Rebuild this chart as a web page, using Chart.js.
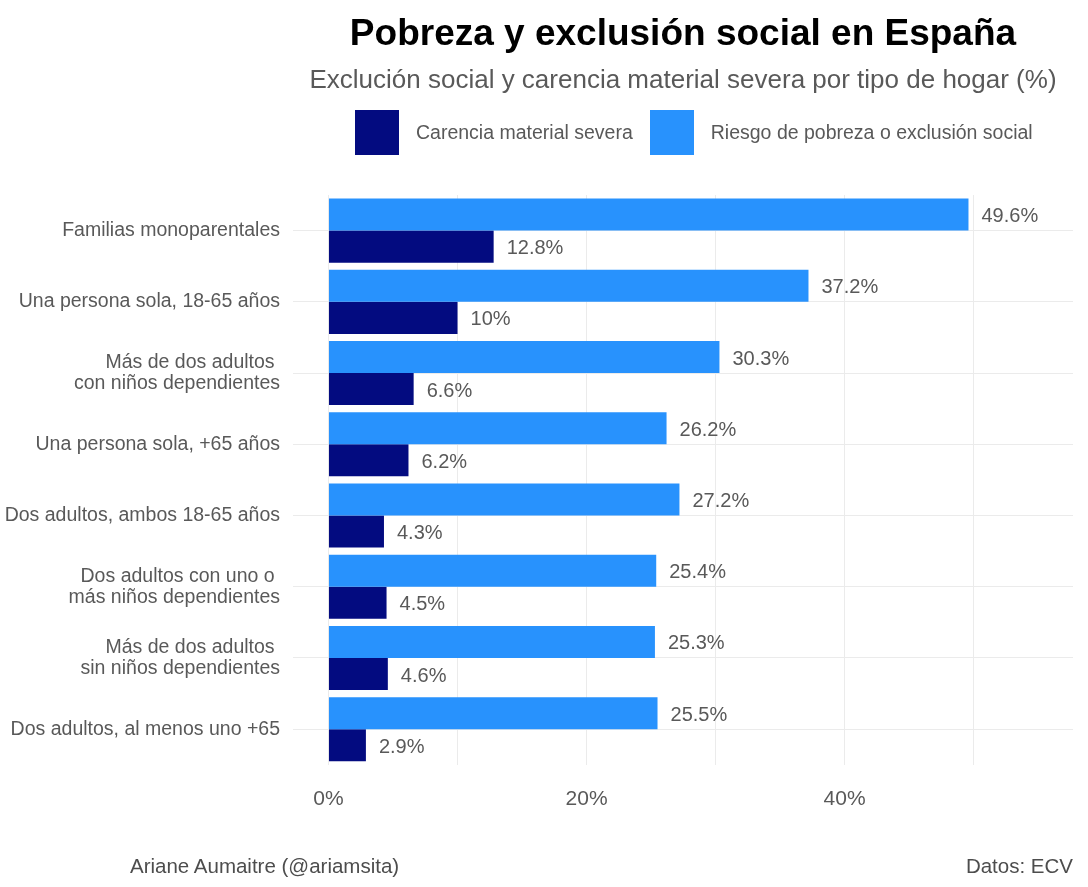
<!DOCTYPE html>
<html>
<head>
<meta charset="utf-8">
<script src="https://cdn.jsdelivr.net/npm/chart.js@4/dist/chart.umd.min.js"></script>
<style>
  body { margin: 0; background: #fff; font-family: "Liberation Sans", Arial, sans-serif; }
  #page { position: relative; width: 1088px; height: 887px; overflow: hidden; }
  #wrap { position: absolute; left: 0; top: 0; width: 1088px; height: 887px; }
  .txt { position: absolute; line-height: 1; white-space: nowrap; }
  #title { left: 280px; width: 806px; top: 14px; text-align: center; font-size: 37px; font-weight: bold; color: #000; }
  #subtitle { left: 280px; width: 806px; top: 66px; text-align: center; font-size: 26px; color: #595959; }
  #legend { position: absolute; left: 355px; top: 110px; display: flex; align-items: center; font-size: 19.5px; color: #595959; }
  #legend .box { width: 44px; height: 45px; margin-right: 17px; }
  #legend .lab { margin-right: 17px; }
  #footL { left: 130px; top: 856px; font-size: 20.5px; color: #4d4d4d; }
  #footR { right: 15px; top: 856px; font-size: 20.5px; color: #4d4d4d; }
</style>
</head>
<body>
<div id="page">
  <div id="wrap"><canvas id="chart"></canvas></div>
  <div id="title" class="txt">Pobreza y exclusión social en España</div>
  <div id="subtitle" class="txt">Exclución social y carencia material severa por tipo de hogar (%)</div>
  <div id="legend"></div>
  <div id="footL" class="txt">Ariane Aumaitre (@ariamsita)</div>
  <div id="footR" class="txt">Datos: ECV</div>
</div>
<script>
const categories = [
  'Familias monoparentales',
  'Una persona sola, 18-65 años',
  ['Más de dos adultos ', 'con niños dependientes'],
  'Una persona sola, +65 años',
  'Dos adultos, ambos 18-65 años',
  ['Dos adultos con uno o ', 'más niños dependientes'],
  ['Más de dos adultos ', 'sin niños dependientes'],
  'Dos adultos, al menos uno +65'
];
const riesgo = [49.6, 37.2, 30.3, 26.2, 27.2, 25.4, 25.3, 25.5];
const carencia = [12.8, 10, 6.6, 6.2, 4.3, 4.5, 4.6, 2.9];
const xTicks = [0, 10, 20, 30, 40, 50];
const xTickLabels = ['0%', '', '20%', '', '40%', ''];

const lightBlue = '#2892fd';
const navy = '#030b80';
const textGrey = '#595959';

// legend order as in the picture: dark first
const legendItems = [
  { label: 'Carencia material severa', color: navy },
  { label: 'Riesgo de pobreza o exclusión social', color: lightBlue }
];
const legendEl = document.getElementById('legend');
legendItems.forEach(it => {
  const b = document.createElement('div');
  b.className = 'box';
  b.style.background = it.color;
  const t = document.createElement('div');
  t.className = 'lab';
  t.textContent = it.label;
  legendEl.appendChild(b);
  legendEl.appendChild(t);
});

const valueLabels = {
  id: 'valueLabels',
  afterDatasetsDraw(chart) {
    const ctx = chart.ctx;
    ctx.save();
    ctx.font = '20px "Liberation Sans", Arial, sans-serif';
    ctx.fillStyle = textGrey;
    ctx.textAlign = 'left';
    ctx.textBaseline = 'middle';
    chart.data.datasets.forEach((ds, i) => {
      chart.getDatasetMeta(i).data.forEach((el, j) => {
        ctx.fillText(ds.data[j] + '%', el.x + 13, el.y + 2);
      });
    });
    ctx.restore();
  }
};

new Chart(document.getElementById('chart'), {
  type: 'bar',
  data: {
    labels: categories,
    datasets: [{
      label: 'Riesgo de pobreza o exclusión social',
      data: riesgo,
      backgroundColor: lightBlue,
      categoryPercentage: 0.9,
      barPercentage: 1.0
    }, {
      label: 'Carencia material severa',
      data: carencia,
      backgroundColor: navy,
      categoryPercentage: 0.9,
      barPercentage: 1.0
    }]
  },
  options: {
    indexAxis: 'y',
    responsive: true,
    maintainAspectRatio: false,
    animation: false,
    layout: { padding: { top: 195, right: 15, bottom: 53, left: 0 } },
    plugins: {
      legend: { display: false },
      tooltip: { enabled: false }
    },
    scales: {
      x: {
        type: 'linear',
        min: -2.75,
        max: 57.7,
        afterBuildTicks: (scale) => { scale.ticks = xTicks.map(v => ({ value: v })); },
        ticks: {
          callback: (v, i) => xTickLabels[i],
          autoSkip: false,
          maxRotation: 0,
          padding: 22,
          color: textGrey,
          font: { size: 21, family: '"Liberation Sans", Arial, sans-serif' }
        },
        grid: { color: '#ebebeb', drawTicks: false, lineWidth: 1 },
        border: { display: false }
      },
      y: {
        afterFit: (scale) => { scale.width = 293; },
        ticks: {
          padding: 13,
          color: textGrey,
          font: { size: 19.5, lineHeight: 1.08, family: '"Liberation Sans", Arial, sans-serif' }
        },
        grid: { color: '#ebebeb', drawTicks: false, offset: false },
        border: { display: false }
      }
    }
  },
  plugins: [valueLabels]
});
</script>
</body>
</html>
